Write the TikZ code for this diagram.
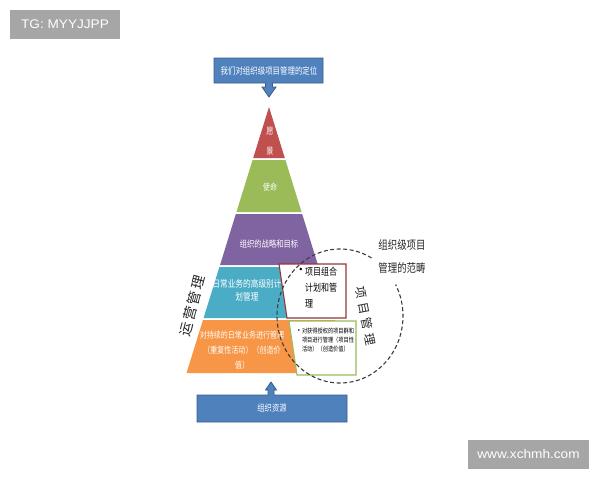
\documentclass[tikz,border=0pt]{standalone}
\usepackage{fontspec}
\setmainfont{Liberation Sans}
\newfontfamily\cjk{Noto Sans CJK SC}
\usepackage{xcolor}
\definecolor{boxblue}{HTML}{4F81BD}
\definecolor{boxline}{HTML}{385D8A}
\definecolor{lvred}{HTML}{C0504D}
\definecolor{lvgreen}{HTML}{9BBB59}
\definecolor{lvpurple}{HTML}{8064A2}
\definecolor{lvcyan}{HTML}{4BACC6}
\definecolor{lvorange}{HTML}{F79646}
\definecolor{framered}{HTML}{953735}
\definecolor{markgray}{HTML}{A6A6A6}
\definecolor{inkgray}{HTML}{262626}

\tikzset{
  cn/.style 2 args={font=\cjk\fontsize{#1}{#2}\selectfont, inner sep=0pt, xscale=0.8},
  callout/.style={draw=boxline, fill=boxblue, line width=0.8pt},
  framebox/.style={fill=white, line width=1.1pt},
  marktext/.style={font=\fontsize{12.5}{14}\selectfont, text=white, inner sep=0pt, xscale=1.09},
}

\begin{document}
\begin{tikzpicture}[x=1pt,y=1pt]
\useasboundingbox (0,0) rectangle (600,-480);

\fill[markgray] (10,-10) rectangle (120,-39);
\node[marktext] (tg) at (65,-24.5) {TG: MYYJJPP};
\fill[markgray] (468,-440) rectangle (589,-469);
\node[marktext] (site) at (528.5,-454.5) {www.xchmh.com};

\draw[callout] (214,-58) -- (323,-58) -- (323,-83) -- (272.5,-83) -- (272.5,-87) -- (276,-87)
  -- (269,-97) -- (262,-87) -- (265.5,-87) -- (265.5,-83) -- (214,-83) -- cycle;
\node[cn={9.3}{11}, text=white] (position) at (269,-70.5) {我们对组织级项目管理的定位};

\foreach \top/\bot/\col in {107/158/lvred, 160/212/lvgreen, 214/265/lvpurple, 267/318/lvcyan, 320/373/lvorange}
  \fill[\col] ({269-0.31*(\top-107)},-\top) -- ({269+0.31*(\top-107)},-\top)
    -- ({269+0.31*(\bot-107)},-\bot) -- ({269-0.31*(\bot-107)},-\bot) -- cycle;

\node[cn={9}{20}, text=white, align=center] (vision) at (270,-141) {愿\\景};
\node[cn={8.8}{11}, text=white] (mission) at (270,-187) {使命};
\node[cn={9.1}{11}, text=white] (strategy) at (269,-244) {组织的战略和目标};
\node[cn={9.6}{13}, text=white, align=center] (planning) at (247,-290) {日常业务的高级别计\\划管理};
\node[cn={8.8}{15}, text=white, align=center] (operation) at (242,-350)
  {对持续的日常业务进行管理\\（重复性活动）（创造价\\值）};

\draw[framebox, draw=framered] (279,-264) -- (346,-264) -- (346,-318) -- (287,-318) -- cycle;
\node[inner sep=0pt, font=\fontsize{9}{10}\selectfont] (bullet1) at (301,-270) {•};
\node[cn={10}{16}, align=left] (portfolio) at (321,-288) {项目组合\\计划和管\\理};

\draw[framebox, draw=lvgreen] (289,-321) -- (356,-321) -- (356,-375) -- (297,-375) -- cycle;
\node[inner sep=0pt, font=\fontsize{6}{7}\selectfont] (bullet2) at (299,-331) {•};
\node[cn={6.5}{9}, align=left] (programs) at (328,-340.5)
  {对获得授权的项目群和\\项目进行管理（项目性\\活动）（创造价值）};

\draw[callout] (197,-395) -- (268,-395) -- (268,-390) -- (265.5,-390) -- (271,-382) -- (276.5,-390)
  -- (274,-390) -- (274,-395) -- (347,-395) -- (347,-422) -- (197,-422) -- cycle;
\node[cn={9.1}{11}, text=white] (resources) at (272,-408.5) {组织资源};

\coordinate (scope c) at (340,-316);
\draw[inkgray!90, line width=1.1pt, dash pattern=on 4pt off 2.5pt]
  ([shift={(60:63pt and 67pt)}]scope c) arc[start angle=60, end angle=388, x radius=63pt, y radius=67pt];

\node[cn={11.8}{23}, text=inkgray, align=center] (category) at (402,-257) {组织级项目\\管理的范畴};
\node[font=\cjk\fontsize{12}{14}\selectfont, text=inkgray, rotate=-79, inner sep=0pt] (pm) at (366,-316)
  {项\hspace{4pt}目\hspace{4pt}管\hspace{4pt}理};
\node[font=\cjk\fontsize{14}{16}\selectfont, text=inkgray, rotate=75, inner sep=0pt] (ops) at (192,-306)
  {运\hspace{2pt}营\hspace{2pt}管\hspace{2pt}理};
\end{tikzpicture}
\end{document}
